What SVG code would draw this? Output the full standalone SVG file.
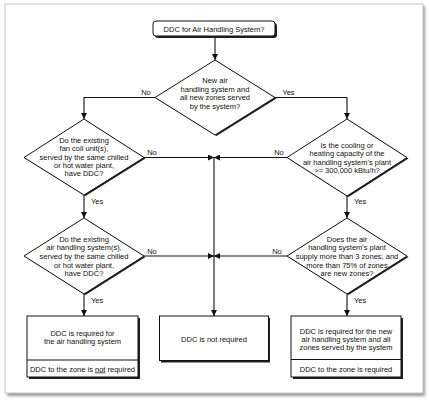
<svg xmlns="http://www.w3.org/2000/svg" width="429" height="402" viewBox="0 0 429 402">
<defs>
<marker id="arr" viewBox="0 0 6 6" refX="6" refY="3" markerWidth="6" markerHeight="6" markerUnits="userSpaceOnUse" orient="auto">
<path d="M0,0 L6,3 L0,6 Z" fill="#111"/>
</marker>
<filter id="fs" x="-5%" y="-5%" width="110%" height="110%">
<feGaussianBlur stdDeviation="1.5"/>
</filter>
</defs>
<style>
text{font-family:"Liberation Sans",Arial,sans-serif;font-size:7.5px;fill:#111;text-anchor:middle}
.st{text-anchor:start}
.shape{fill:#fff;stroke:#111;stroke-width:1}
.sh{fill:#222}
.conn path{fill:none;stroke:#111;stroke-width:1.1}
</style>
<rect x="7" y="6" width="418" height="390" fill="#999" filter="url(#fs)"/>
<rect x="5" y="4" width="418" height="389" fill="#fff" stroke="#c4c4c4" stroke-width="1"/>

<g id="connectors" class="conn">
<path d="M215,36 V60" marker-end="url(#arr)"/>
<path d="M155,97.5 H84 V119" marker-end="url(#arr)"/>
<path d="M275,97.5 H347 V119" marker-end="url(#arr)"/>
<path d="M144,157.5 H214" marker-end="url(#arr)"/>
<path d="M287,157.5 H214" marker-end="url(#arr)"/>
<path d="M84,195 V218" marker-end="url(#arr)"/>
<path d="M347,196 V218" marker-end="url(#arr)"/>
<path d="M144,256 H214" marker-end="url(#arr)"/>
<path d="M287,256 H214" marker-end="url(#arr)"/>
<path d="M214,157.5 V316" marker-end="url(#arr)"/>
<path d="M84,294 V316" marker-end="url(#arr)"/>
<path d="M347,294 V316" marker-end="url(#arr)"/>
<text x="146" y="94.5">No</text>
<text x="288.5" y="94.5">Yes</text>
<text x="152" y="154.5">No</text>
<text x="279" y="154.5">No</text>
<text class="st" x="91" y="204">Yes</text>
<text class="st" x="354" y="204">Yes</text>
<text x="152" y="254">No</text>
<text x="277" y="253.5">No</text>
<text class="st" x="91" y="303">Yes</text>
<text class="st" x="354" y="303">Yes</text>
</g>

<g id="start">
<rect class="sh" x="155" y="23" width="122" height="15" rx="3"/>
<rect class="shape" x="153" y="21" width="122" height="15" rx="3"/>
<text x="214" y="32">DDC for Air Handling System?</text>
</g>

<g id="q1">
<polygon class="sh" points="216.5,61 276.5,98.5 216.5,136 156.5,98.5"/>
<polygon class="shape" points="215,60 275,97.5 215,135 155,97.5"/>
<text x="215" y="83">New air</text>
<text x="215" y="91.5">handling system and</text>
<text x="215" y="100">all new zones served</text>
<text x="215" y="108.5">by the system?</text>
</g>

<g id="q2">
<polygon class="sh" points="85.5,120 145.5,158.5 85.5,196 25.5,158.5"/>
<polygon class="shape" points="84,119 144,157.5 84,195 24,157.5"/>
<text x="84" y="142.7">Do the existing</text>
<text x="84" y="151.1">fan coil unit(s),</text>
<text x="84" y="159.5">served by the same chilled</text>
<text x="84" y="167.9">or hot water plant,</text>
<text x="84" y="176.3">have DDC?</text>
</g>

<g id="q3">
<polygon class="sh" points="348.5,120 408.5,158.5 348.5,197 288.5,158.5"/>
<polygon class="shape" points="347,119 407,157.5 347,196 287,157.5"/>
<text x="347" y="147.7">Is the cooling or</text>
<text x="347" y="156">heating capacity of the</text>
<text x="347" y="164.5">air handling system's plant</text>
<text x="347" y="173">&gt;= 300,000 kBtu/h?</text>
</g>

<g id="q4">
<polygon class="sh" points="85.5,219 145.5,257 85.5,295 25.5,257"/>
<polygon class="shape" points="84,218 144,256 84,294 24,256"/>
<text x="84" y="241.7">Do the existing</text>
<text x="84" y="250.3">air handling system(s),</text>
<text x="84" y="258.9">served by the same chilled</text>
<text x="84" y="267.5">or hot water plant,</text>
<text x="84" y="276.1">have DDC?</text>
</g>

<g id="q5">
<polygon class="sh" points="348.5,219 408.5,257 348.5,295 288.5,257"/>
<polygon class="shape" points="347,218 407,256 347,294 287,256"/>
<text x="347" y="241.9">Does the air</text>
<text x="347" y="250.3">handling system's plant</text>
<text x="347" y="258.8">supply more than 3 zones, and</text>
<text x="347" y="267.5">more than 75% of zones</text>
<text x="347" y="276.3">are new zones?</text>
</g>

<g id="r1">
<rect class="sh" x="29" y="318" width="111" height="61"/>
<rect class="shape" x="27" y="316" width="111" height="61"/>
<line x1="27" y1="360" x2="138" y2="360" stroke="#111" stroke-width="1"/>
<text x="82.5" y="335.7">DDC is required for</text>
<text x="82.5" y="344.4">the air handling system</text>
<text x="82.5" y="371.5">DDC to the zone is <tspan text-decoration="underline">not</tspan> required</text>
</g>

<g id="r2">
<rect class="sh" x="161" y="318" width="109" height="44.5"/>
<rect class="shape" x="159.5" y="316" width="109" height="44.5"/>
<text x="214" y="341.5">DDC is not required</text>
</g>

<g id="r3">
<rect class="sh" x="293" y="318" width="110" height="61"/>
<rect class="shape" x="291" y="316" width="110" height="61"/>
<line x1="291" y1="359.5" x2="401" y2="359.5" stroke="#111" stroke-width="1"/>
<text x="346" y="333.6">DDC is required for the new</text>
<text x="346" y="341.9">air handling system and all</text>
<text x="346" y="350.2">zones served by the system</text>
<text x="346" y="371.5">DDC to the zone is required</text>
</g>
</svg>
